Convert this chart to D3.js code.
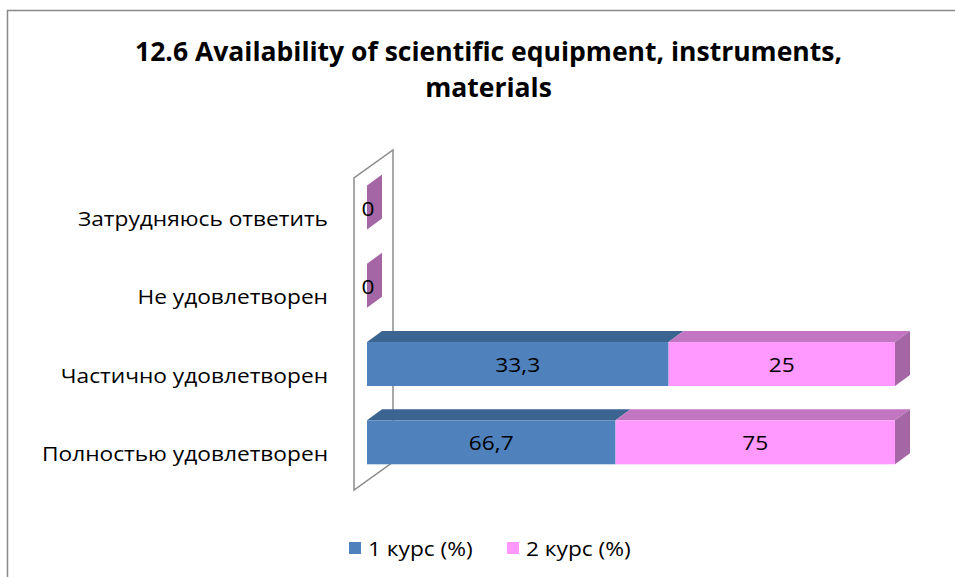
<!DOCTYPE html>
<html>
<head>
<meta charset="utf-8">
<script src="https://cdn.jsdelivr.net/npm/d3@7"></script>
<style>
  html, body { margin: 0; padding: 0; background: #fff; }
  svg { display: block; }
  text { font-family: "Open Sans", "Noto Sans", "DejaVu Sans", sans-serif; fill: #000; }
</style>
</head>
<body>
<svg id="chart" width="955" height="577"></svg>
<script>
// ---- data ----
const titleLines = ["12.6 Availability of scientific equipment, instruments,", "materials"];
const categories = ["Затрудняюсь ответить", "Не удовлетворен", "Частично удовлетворен", "Полностью удовлетворен"];
const seriesNames = ["1 курс (%)", "2 курс (%)"];
const course1 = [0, 0, 33.3, 66.7];
const course2 = [0, 0, 25, 75];

// ---- styles ----
const frontColors = ["#4F81BD", "#FF99FF"];
const topColors = ["#3C6490", "#C275C0"];
const sideColors = ["#3A5F8A", "#A466A4"];

const svg = d3.select("#chart");

function naturalWidth(str, weight, size) {
  const t = svg.append("text").attr("font-size", size).attr("font-weight", weight).text(str);
  const w = t.node().getComputedTextLength();
  t.remove();
  return w;
}
// squeeze factors (Calibri-like narrow proportions)
const titleSize = 27, labSize = 20.5;
const titleSqueeze = 707 / naturalWidth(titleLines[0], "bold", titleSize);
const labSqueeze = 286 / naturalWidth(categories[3], "normal", labSize);
function squeeze(sel, k) {
  sel.each(function () {
    const w = this.getComputedTextLength();
    d3.select(this).attr("textLength", w * k).attr("lengthAdjust", "spacingAndGlyphs");
  });
}

// frame
svg.append("rect").attr("x", 7.5).attr("y", 10.5).attr("width", 1000).attr("height", 1000)
  .attr("fill", "none").attr("stroke", "#898989").attr("stroke-width", 1.5);

// title
svg.append("g").selectAll("text").data(titleLines).join("text")
  .attr("x", 488.5).attr("y", (d, i) => 61 + i * 36)
  .attr("text-anchor", "middle").attr("font-weight", "bold")
  .attr("font-size", titleSize).text(d => d)
  .call(squeeze, titleSqueeze);

// data table
const table = categories.map((c, i) => ({ cat: c, [seriesNames[0]]: course1[i], [seriesNames[1]]: course2[i] }));
const stacked = d3.stack().keys(seriesNames).offset(d3.stackOffsetExpand)(table);

// scales
const x = d3.scaleLinear().domain([0, 1]).range([367, 895]);
const y = d3.scalePoint().domain(categories).range([207.5, 442.3]);
const barH = 44;
const dx = 15, dy = 11;          // bar depth
const wallDx = 39, wallDy = 28;  // wall depth
const wallOff = 13;              // bar front offset from wall front

// back wall
const wx = x(0) - wallOff;
const wTop = y(categories[0]) - 29.5;
const wBot = y(categories[categories.length - 1]) + 47.7;
svg.append("polygon")
  .attr("points", [[wx, wBot], [wx, wTop], [wx + wallDx, wTop - wallDy], [wx + wallDx, wBot - wallDy]].map(p => p.join(",")).join(" "))
  .attr("fill", "#fff").attr("stroke", "#8c8c8c").attr("stroke-width", 1.5);

// bars
const gBars = svg.append("g");
categories.forEach((c, ci) => {
  const yT = y(c) - barH / 2, yB = y(c) + barH / 2;
  stacked.forEach((s, si) => {
    const x0 = x(s[ci][0]), x1 = x(s[ci][1]);
    if (x1 - x0 > 0) {
      gBars.append("polygon")
        .attr("points", [[x0, yT], [x1, yT], [x1 + dx, yT - dy], [x0 + dx, yT - dy]].map(p => p.join(",")).join(" "))
        .attr("fill", topColors[si]);
      gBars.append("rect").attr("x", x0).attr("y", yT).attr("width", x1 - x0).attr("height", barH)
        .attr("fill", frontColors[si]);
    }
  });
  const last = stacked.length - 1;
  const xe = x(stacked[last][ci][1]);
  gBars.append("polygon")
    .attr("points", [[xe, yT], [xe + dx, yT - dy], [xe + dx, yB - dy], [xe, yB]].map(p => p.join(",")).join(" "))
    .attr("fill", sideColors[last]);
});

// data labels
const labels = [];
categories.forEach((c, ci) => {
  const seen = new Set();
  stacked.forEach((s, si) => {
    const cx = (x(s[ci][0]) + x(s[ci][1])) / 2;
    const key = Math.round(cx);
    if (seen.has(key)) return;
    seen.add(key);
    const v = si === 0 ? course1[ci] : course2[ci];
    labels.push({ x: cx + (v === 0 ? 1 : 0), y: y(c) + 8, t: String(v).replace(".", ",") });
  });
});
svg.append("g").selectAll("text").data(labels).join("text")
  .attr("x", d => d.x).attr("y", d => d.y).attr("text-anchor", "middle")
  .attr("font-size", labSize).text(d => d)
  .text(d => d.t)
  .call(squeeze, labSqueeze);

// category axis labels
svg.append("g").selectAll("text").data(categories).join("text")
  .attr("x", 328).attr("y", d => y(d) + 18.5).attr("text-anchor", "end")
  .attr("font-size", labSize).text(d => d)
  .call(squeeze, labSqueeze);

// legend
const legX = [349, 507];
const lg = svg.append("g").selectAll("g").data(seriesNames).join("g")
  .attr("transform", (d, i) => `translate(${legX[i]},542)`);
lg.append("rect").attr("width", 12).attr("height", 12).attr("fill", (d, i) => frontColors[i]);
lg.append("text").attr("x", 19).attr("y", 13.5).attr("font-size", labSize).text(d => d)
  .call(squeeze, labSqueeze);
</script>
</body>
</html>
